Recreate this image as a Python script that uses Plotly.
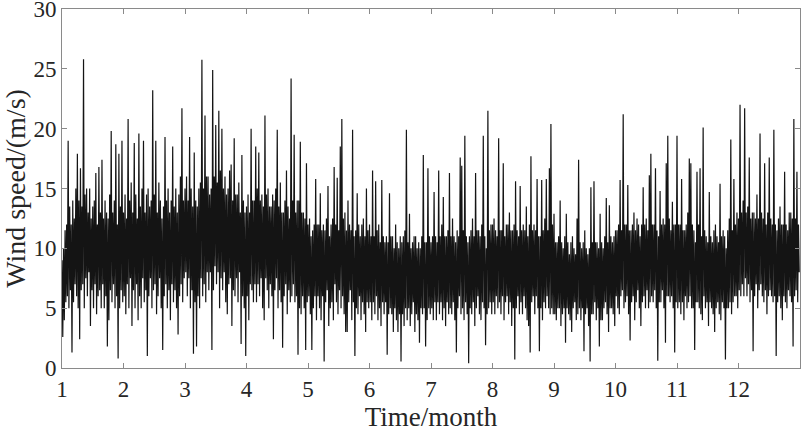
import plotly.graph_objects as go

# Wind speed (m/s), 80 samples per month (alternating upper / lower swings)
m01 = [9.0, 2.6, 10.0, 4.0, 11.5, 5.5, 12.0, 6.0, 19.0, 5.0, 13.5, 6.5, 12.0, 1.3, 14.0, 5.5, 12.5, 7.0, 15.0, 6.0,
       17.9, 5.0, 14.0, 2.4, 16.7, 6.5, 13.5, 7.0, 25.8, 5.0, 14.5, 7.5, 15.0, 6.0, 13.0, 8.0, 15.0, 3.5, 12.5, 6.5,
       13.5, 5.0, 14.0, 7.0, 16.3, 4.5, 12.0, 6.0, 16.8, 6.5, 13.0, 5.0, 17.4, 7.0, 12.5, 5.0, 14.0, 6.0, 13.0, 1.8,
       12.5, 4.0, 14.5, 6.5, 19.8, 5.5, 13.0, 7.0, 14.0, 5.0, 18.7, 6.0, 12.0, 0.8, 17.9, 5.0, 13.5, 6.5, 19.0, 5.5]
m02 = [13.0, 6.0, 14.5, 4.5, 12.5, 7.0, 20.8, 5.0, 14.0, 7.5, 15.5, 3.5, 13.0, 6.5, 18.8, 5.0, 14.5, 7.0, 12.5, 4.0,
       19.6, 6.0, 13.5, 5.0, 15.0, 7.5, 19.0, 5.5, 13.0, 6.5, 14.5, 1.0, 15.0, 6.0, 13.5, 7.5, 14.0, 5.0, 23.2, 6.5,
       14.5, 7.0, 19.0, 4.5, 13.0, 6.0, 15.5, 7.5, 14.0, 5.0, 12.5, 1.5, 13.5, 6.0, 19.3, 7.0, 14.0, 5.0, 15.0, 6.5,
       13.0, 4.0, 14.0, 7.0, 18.5, 5.5, 13.5, 6.5, 15.0, 5.0, 13.0, 2.8, 14.5, 6.0, 16.0, 7.0, 21.7, 5.5, 14.0, 7.5]
m03 = [15.0, 8.0, 16.0, 6.0, 14.0, 7.5, 19.3, 5.0, 15.0, 6.5, 13.5, 1.2, 18.0, 5.5, 14.0, 1.8, 13.5, 6.0, 15.0, 5.0,
       15.5, 7.5, 25.75, 6.0, 15.0, 7.0, 21.1, 5.5, 16.0, 8.0, 16.0, 6.5, 14.5, 8.0, 15.0, 1.5, 24.9, 6.5, 16.0, 8.5,
       20.3, 7.0, 15.5, 8.0, 21.5, 5.0, 16.5, 7.5, 20.0, 6.5, 15.0, 8.0, 16.0, 5.5, 14.5, 4.5, 15.0, 7.0, 16.5, 7.5,
       17.0, 3.5, 14.0, 6.5, 19.2, 6.0, 14.5, 7.5, 14.5, 5.5, 15.5, 8.0, 13.0, 2.0, 17.8, 6.0, 14.0, 5.0, 13.0, 1.0]
m04 = [13.5, 6.0, 14.5, 4.0, 13.0, 7.0, 20.0, 6.5, 14.0, 5.5, 14.0, 7.0, 18.5, 5.5, 15.0, 7.0, 18.0, 6.0, 14.0, 7.5,
       14.5, 5.0, 13.5, 4.0, 21.1, 7.5, 14.5, 6.5, 15.0, 5.0, 13.5, 7.0, 13.5, 6.0, 14.5, 2.4, 14.0, 6.5, 15.0, 7.5,
       19.9, 5.0, 13.5, 6.5, 15.5, 5.5, 13.0, 1.7, 13.0, 6.0, 14.0, 7.0, 16.5, 4.5, 13.5, 6.5, 12.5, 5.5, 24.2, 6.0,
       14.0, 7.0, 19.5, 5.5, 13.0, 6.0, 14.0, 1.1, 14.0, 5.0, 18.9, 4.5, 13.0, 6.0, 13.0, 5.0, 12.5, 1.5, 17.1, 5.5]
m05 = [12.0, 6.0, 12.5, 4.5, 11.0, 1.5, 11.5, 5.0, 12.0, 6.0, 15.8, 4.0, 12.0, 6.0, 12.0, 5.0, 14.6, 4.0, 11.5, 6.0,
       12.0, 0.55, 11.5, 5.5, 12.5, 6.5, 15.2, 3.5, 11.0, 5.0, 12.0, 5.5, 12.5, 4.0, 16.8, 7.0, 12.0, 5.5, 15.9, 4.5,
       11.5, 6.5, 18.5, 5.0, 20.8, 6.0, 12.5, 4.5, 13.0, 3.0, 11.5, 3.0, 14.0, 5.5, 12.0, 6.5, 11.5, 4.0, 19.9, 5.5,
       11.0, 1.0, 11.5, 5.0, 14.6, 4.5, 12.0, 6.0, 11.0, 4.0, 12.0, 5.5, 12.5, 4.5, 11.0, 3.0, 15.0, 5.5, 11.5, 5.0]
m06 = [12.0, 5.5, 11.0, 4.0, 16.5, 5.5, 11.0, 4.5, 15.6, 6.0, 11.5, 4.0, 12.0, 5.0, 10.5, 3.5, 15.7, 5.5, 11.0, 4.5,
       10.5, 5.5, 11.0, 1.1, 10.5, 4.5, 14.6, 5.0, 11.0, 4.5, 11.0, 3.0, 10.0, 5.0, 12.0, 4.0, 10.5, 3.0, 10.0, 4.5,
       11.0, 0.55, 10.5, 4.5, 11.0, 3.5, 11.5, 5.0, 19.9, 4.0, 10.5, 5.0, 12.9, 3.5, 10.0, 4.5, 10.5, 5.5, 11.0, 3.0,
       11.0, 4.5, 10.0, 4.0, 10.5, 2.1, 10.0, 5.0, 11.0, 4.5, 17.8, 5.0, 10.5, 1.8, 10.5, 4.0, 16.7, 5.0, 11.0, 4.5]
m07 = [10.5, 5.0, 11.0, 4.0, 14.7, 5.5, 11.0, 4.0, 10.5, 5.5, 16.5, 4.5, 11.0, 5.5, 12.0, 4.0, 14.3, 5.0, 11.0, 3.5,
       11.0, 5.5, 11.5, 4.5, 16.3, 5.0, 11.0, 4.5, 12.5, 5.5, 11.0, 4.0, 10.5, 1.3, 11.5, 5.0, 11.0, 6.0, 17.6, 4.5,
       16.9, 5.0, 11.5, 4.0, 19.4, 5.5, 11.0, 4.5, 10.5, 0.4, 11.0, 5.0, 11.5, 4.5, 12.5, 5.5, 11.0, 3.5, 16.3, 5.0,
       11.5, 6.0, 11.5, 4.5, 11.0, 4.0, 12.0, 5.5, 19.4, 5.0, 11.0, 1.9, 10.0, 4.5, 21.5, 5.0, 11.5, 5.5, 12.0, 4.5]
m08 = [12.0, 5.5, 12.5, 4.5, 11.5, 6.0, 11.0, 5.0, 19.2, 5.5, 11.5, 4.5, 11.5, 6.0, 17.1, 4.0, 11.0, 5.5, 12.0, 6.0,
       12.0, 4.5, 13.0, 5.5, 11.5, 3.5, 11.5, 5.0, 12.0, 0.7, 15.6, 5.0, 11.5, 6.0, 11.0, 4.5, 15.2, 5.5, 11.5, 4.5,
       12.0, 6.0, 11.5, 5.0, 13.5, 4.0, 11.0, 3.5, 12.0, 1.3, 17.7, 5.5, 11.5, 6.0, 12.0, 4.5, 11.5, 6.0, 15.8, 5.0,
       11.0, 1.4, 11.0, 5.0, 15.7, 4.0, 11.5, 5.5, 12.5, 5.0, 15.8, 6.0, 11.5, 5.0, 16.7, 4.5, 20.4, 5.0, 12.0, 4.5]
m09 = [12.9, 4.5, 10.5, 4.0, 10.5, 5.0, 11.0, 5.0, 14.0, 3.5, 10.5, 4.5, 10.0, 5.0, 11.0, 2.1, 12.9, 5.0, 10.5, 4.5,
       9.5, 4.0, 10.5, 3.0, 11.0, 5.0, 10.0, 5.5, 9.5, 4.0, 12.5, 4.5, 17.4, 5.0, 10.5, 4.0, 10.0, 5.0, 10.5, 1.4,
       11.5, 4.5, 10.0, 5.0, 9.5, 3.5, 10.0, 0.55, 15.1, 4.5, 10.5, 4.5, 15.6, 5.5, 10.5, 4.0, 10.5, 5.0, 10.0, 1.8,
       12.9, 4.0, 10.5, 4.0, 10.0, 5.0, 11.0, 5.5, 14.2, 4.5, 10.5, 3.0, 13.6, 5.0, 11.0, 5.0, 10.5, 4.5, 11.0, 3.5]
m10 = [11.5, 6.0, 11.5, 5.0, 12.0, 4.5, 15.7, 6.0, 11.5, 6.5, 21.2, 5.0, 12.0, 5.5, 12.0, 6.0, 15.3, 4.5, 11.5, 2.3,
       11.5, 5.5, 12.0, 6.0, 13.0, 4.0, 11.5, 5.5, 12.5, 6.5, 12.0, 5.0, 11.0, 3.5, 12.0, 5.5, 15.1, 6.0, 12.0, 5.0,
       12.5, 6.5, 11.5, 5.0, 16.1, 5.5, 17.9, 6.0, 12.0, 5.5, 12.0, 6.5, 16.7, 5.0, 11.5, 0.6, 11.0, 5.5, 14.8, 5.5,
       12.0, 6.5, 12.5, 5.0, 12.0, 2.1, 17.1, 6.0, 19.4, 6.0, 12.5, 5.5, 11.5, 6.0, 13.9, 5.0, 12.0, 1.3, 12.0, 5.5]
m11 = [19.4, 5.0, 12.0, 5.5, 12.0, 4.5, 15.8, 5.5, 11.5, 4.0, 11.5, 6.0, 12.0, 5.0, 13.0, 5.5, 17.5, 6.0, 17.1, 5.0,
       12.0, 5.0, 11.5, 1.5, 10.5, 5.5, 16.4, 5.5, 12.0, 5.0, 16.7, 4.5, 11.0, 4.0, 20.1, 6.0, 11.5, 5.0, 11.0, 5.5,
       10.5, 3.5, 14.7, 5.5, 11.0, 5.0, 10.5, 4.5, 11.5, 3.0, 12.0, 5.0, 11.0, 5.5, 10.5, 4.5, 15.4, 4.0, 11.0, 5.5,
       11.5, 5.0, 11.0, 0.7, 10.0, 5.0, 11.5, 5.0, 12.5, 5.5, 19.1, 4.5, 11.5, 5.5, 15.8, 6.0, 12.0, 6.0, 13.0, 5.0]
m12 = [12.5, 6.5, 22.0, 6.0, 13.0, 7.0, 14.0, 6.0, 21.7, 7.5, 13.0, 6.0, 13.5, 7.0, 17.6, 5.5, 12.5, 6.5, 13.0, 1.4,
       13.0, 6.0, 12.5, 7.0, 14.5, 5.0, 12.5, 6.5, 19.6, 7.0, 13.0, 6.0, 12.5, 5.5, 17.1, 6.5, 12.0, 4.5, 13.0, 6.0,
       17.6, 6.5, 12.5, 6.0, 12.0, 5.5, 19.9, 6.0, 12.0, 1.0, 11.5, 5.5, 12.5, 6.0, 13.5, 5.0, 12.0, 4.0, 12.0, 6.0,
       16.4, 5.5, 12.0, 5.0, 11.5, 6.5, 13.0, 6.0, 13.0, 5.5, 12.5, 1.8, 20.8, 6.0, 12.5, 6.5, 16.4, 5.5, 12.0, 8.0]

months = [m01, m02, m03, m04, m05, m06, m07, m08, m09, m10, m11, m12]
month_ticks = list(range(1, 13))
y_ticks = [0, 5, 10, 15, 20, 25, 30]

t, v = [], []
for k, vals in enumerate(months):
    n = len(vals)
    for i, val in enumerate(vals):
        t.append(k + 1 + i / n)
        v.append(val)

font_family = "Liberation Serif, Times New Roman, serif"

fig = go.Figure()
fig.add_trace(go.Scatter(x=t, y=v, mode="lines",
                         line=dict(color="#141414", width=1.2),
                         showlegend=False, hoverinfo="skip"))

axis_common = dict(showline=True, linecolor="#8a8a8a", linewidth=1, mirror="ticks",
                   ticks="inside", ticklen=5, tickcolor="#8a8a8a", showgrid=False,
                   zeroline=False, automargin=False, ticklabeloverflow="allow",
                   tickfont=dict(family=font_family, size=23, color="#262626"))

fig.update_layout(
    width=801, height=432,
    margin=dict(l=62, r=1, t=9, b=64, autoexpand=False),
    paper_bgcolor="white", plot_bgcolor="white",
    xaxis=dict(range=[1, 13], tickvals=month_ticks, ticktext=[str(m) for m in month_ticks],
               title=dict(text="Time/month", font=dict(family=font_family, size=27, color="#262626"), standoff=2),
               **axis_common),
    yaxis=dict(range=[0, 30], tickvals=y_ticks,
               title=dict(text="Wind speed/(m/s)", font=dict(family=font_family, size=28, color="#262626"), standoff=4),
               **axis_common),
)

fig.write_html("out.html", config={"responsive": False, "displayModeBar": False},
               post_script="document.body.style.margin='0';document.body.style.overflow='hidden';")
